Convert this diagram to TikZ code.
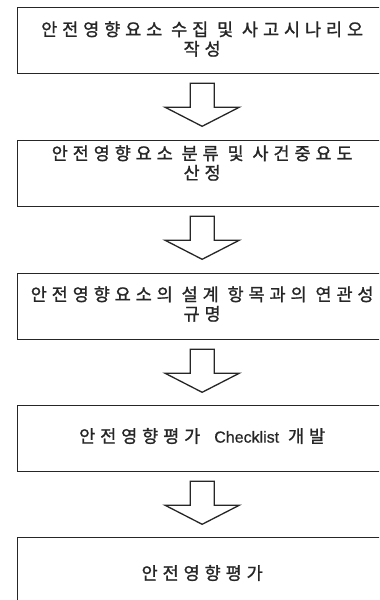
\documentclass[tikz,border=0pt]{standalone}
\usepackage{fontspec}
\newfontfamily\kfont[LetterSpace=28,FakeBold=1.2]{Noto Sans CJK KR}
\newfontfamily\lfont[FakeBold=0.6]{Liberation Sans}
\usetikzlibrary{calc}
\begin{document}
\begin{tikzpicture}[x=1bp,y=-1bp,
  box/.style={draw=black!85, line width=1.3bp, rectangle, minimum width=369bp, minimum height=66bp, inner sep=0pt, anchor=north west},
  txt/.style={align=center, inner sep=0pt, text=black!85, font=\kfont\fontsize{17.5bp}{19.5bp}\selectfont},
  arrowline/.style={draw=black!85, line width=1.3bp, line join=miter},
  downarrow/.pic={\draw[arrowline] (-12,0) -- (12,0) -- (12,24) -- (37,24) -- (0,43) -- (-37,24) -- (-12,24) -- cycle;}
]
\useasboundingbox (0,0) rectangle (379,600);
\clip (0,0) rectangle (379,600);
\fill[white] (0,0) rectangle (379,600);

\node[box] (b1) at (17,7) {};
\node[box] (b2) at (17,140) {};
\node[box] (b3) at (17,273) {};
\node[box] (b4) at (17,405) {};
\node[box, minimum height=90bp] (b5) at (17,537) {};

\node[txt] (t1) at ($(b1.north)+(0,32)$) {안전영향요소 수집 및 사고시나리오\\작성};
\node[txt] (t2) at ($(b2.north)+(0,23)$) {안전영향요소 분류 및 사건중요도\\산정};
\node[txt] (t3) at ($(b3.north)+(0,31)$) {안전영향요소의 설계 항목과의 연관성\\규명};
\node[txt] (t4) at ($(b4.north)+(0,31)$) {안전영향평가\hspace{0.8em}{\lfont\fontsize{16bp}{18bp}\selectfont Checklist} 개발};
\node[txt] (t5) at ($(b5.north)+(0,36)$) {안전영향평가};

\pic at ($(b1.south)+(0,9)$) {downarrow};
\pic at ($(b2.south)+(0,9)$) {downarrow};
\pic at ($(b3.south)+(0,9)$) {downarrow};
\pic at ($(b4.south)+(0,9)$) {downarrow};
\end{tikzpicture}
\end{document}
